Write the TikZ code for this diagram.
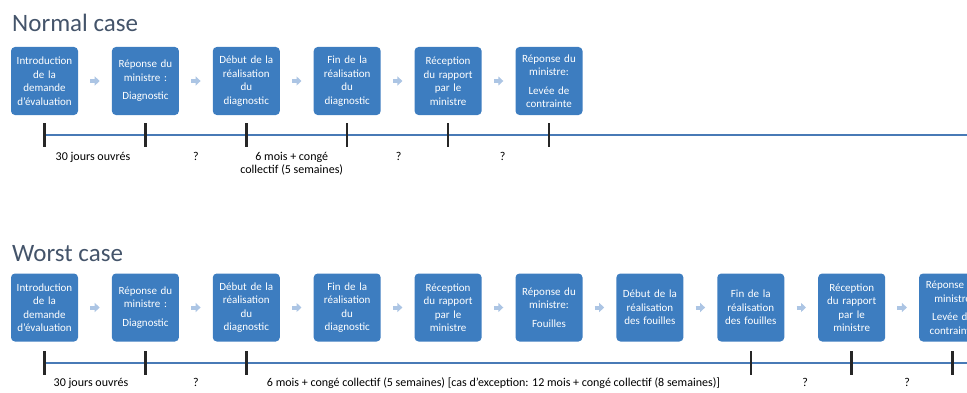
\documentclass[tikz,border=0pt]{standalone}
\usepackage{fontspec}
\setmainfont{Carlito}
\usetikzlibrary{positioning,arrows.meta,calc}
\definecolor{Box}{RGB}{61,125,192}
\definecolor{Pale}{RGB}{172,197,228}
\definecolor{Axis}{RGB}{72,122,182}
\definecolor{Slate}{RGB}{68,84,106}

\begin{document}
\begin{tikzpicture}[x=1pt,y=1pt,node distance=33.5pt,
 b/.style={rounded corners=4pt,fill=Box,text=white,text width=63pt,minimum width=67pt,minimum height=68pt,inner sep=2pt,align=center,font=\fontsize{11}{13.5}\selectfont},
 a/.style={-{Triangle[length=5pt,width=9pt]},line width=4pt,Pale,shorten <=12pt,shorten >=12pt},
 hd/.style={anchor=base west,inner sep=0pt,font=\fontsize{25}{30}\selectfont,text=Slate},
 lb/.style={anchor=north,inner sep=0pt,align=center,font=\fontsize{12}{13.5}\selectfont},
 tk/.style={line width=2.5pt,black!85},
 ax/.style={line width=2.5pt,Axis}]
\useasboundingbox (0,0) rectangle (967,392);
\clip (0,0) rectangle (967,392);

% normal case
\node[hd] (h1) at (12,360) {Normal case};
\node[b] (n1) at (44.5,311) {Introduction\\de la\\demande\\d'évaluation};
\node[b,right=of n1] (n2) {Réponse du\\ministre :\\[5pt]Diagnostic};
\node[b,right=of n2] (n3) {Début de la\\réalisation\\du\\diagnostic};
\node[b,right=of n3] (n4) {Fin de la\\réalisation\\du\\diagnostic};
\node[b,right=of n4] (n5) {Réception\\du rapport\\par le\\ministre};
\node[b,right=of n5] (n6) {Réponse du\\ministre:\\[5pt]Levée de\\contrainte};
\draw[a] (n1)--(n2);\draw[a] (n2)--(n3);\draw[a] (n3)--(n4);\draw[a] (n4)--(n5);\draw[a] (n5)--(n6);

\coordinate (ln) at (0,257);
\coordinate (le) at (967,257);
\coordinate (p1) at (n1 |- ln);\coordinate (p2) at (n2 |- ln);\coordinate (p3) at (n3 |- ln);
\coordinate (p4) at (n4 |- ln);\coordinate (p5) at (n5 |- ln);\coordinate (p6) at (n6 |- ln);
\draw[ax] (p1)--(le);
\draw[tk] (p1) ++(0,12) -- ++(0,-24);\draw[tk] (p2) ++(0,12) -- ++(0,-24);\draw[tk] (p3) ++(0,12) -- ++(0,-24);
\draw[tk] (p4) ++(0,12) -- ++(0,-24);\draw[tk] (p5) ++(0,12) -- ++(0,-24);\draw[tk] (p6) ++(0,12) -- ++(0,-24);
\node[lb] (m1) at ($(p1)!.5!(p2)+(-2,-17)$) {30 jours ouvrés};
\node[lb] (m2) at ($(p2)!.5!(p3)+(0,-17)$) {?};
\node[lb] (m3) at ($(p3)!.5!(p4)+(-5,-17)$) {6 mois + congé\\collectif (5 semaines)};
\node[lb] (m4) at ($(p4)!.5!(p5)+(1,-17)$) {?};
\node[lb] (m5) at ($(p5)!.5!(p6)+(4,-17)$) {?};

% worst case
\node[hd] (h2) at (12,131) {Worst case};
\node[b] (w1) at (44.5,84.5) {Introduction\\de la\\demande\\d'évaluation};
\node[b,right=of w1] (w2) {Réponse du\\ministre :\\[5pt]Diagnostic};
\node[b,right=of w2] (w3) {Début de la\\réalisation\\du\\diagnostic};
\node[b,right=of w3] (w4) {Fin de la\\réalisation\\du\\diagnostic};
\node[b,right=of w4] (w5) {Réception\\du rapport\\par le\\ministre};
\node[b,right=of w5] (w6) {Réponse du\\ministre:\\[5pt]Fouilles};
\node[b,right=of w6] (w7) {Début de la\\réalisation\\des fouilles};
\node[b,right=of w7] (w8) {Fin de la\\réalisation\\des fouilles};
\node[b,right=of w8] (w9) {Réception\\du rapport\\par le\\ministre};
\node[b,right=of w9] (w10) {Réponse du\\ministre\\[5pt]Levée de\\contrainte};
\draw[a] (w1)--(w2);\draw[a] (w2)--(w3);\draw[a] (w3)--(w4);\draw[a] (w4)--(w5);\draw[a] (w5)--(w6);
\draw[a] (w6)--(w7);\draw[a] (w7)--(w8);\draw[a] (w8)--(w9);\draw[a] (w9)--(w10);

\coordinate (lw) at (0,29);
\coordinate (lx) at (967,29);
\coordinate (q1) at (w1 |- lw);\coordinate (q2) at (w2 |- lw);\coordinate (q3) at (w3 |- lw);
\coordinate (q8) at (w8 |- lw);\coordinate (q9) at (w9 |- lw);\coordinate (q10) at (w10 |- lw);
\draw[ax] (q1)--(lx);
\draw[tk] (q1) ++(0,12) -- ++(0,-24);\draw[tk] (q2) ++(0,12) -- ++(0,-24);\draw[tk] (q3) ++(0,12) -- ++(0,-24);
\draw[tk] (q8) ++(0,12) -- ++(0,-24);\draw[tk] (q9) ++(0,12) -- ++(0,-24);\draw[tk] (q10) ++(0,12) -- ++(0,-24);
\node[lb] (r1) at ($(q1)!.5!(q2)+(-4,-15)$) {30 jours ouvrés};
\node[lb] (r2) at ($(q2)!.5!(q3)+(0,-15)$) {?};
\node[lb] (r3) at ($(q3)!.5!(q8)+(-5,-15)$) {6 mois + congé collectif (5 semaines) [cas d'exception: 12 mois + congé collectif (8 semaines)]};
\node[lb] (r4) at ($(q8)!.5!(q9)+(4,-15)$) {?};
\node[lb] (r5) at ($(q9)!.5!(q10)+(5,-15)$) {?};
\end{tikzpicture}
\end{document}
